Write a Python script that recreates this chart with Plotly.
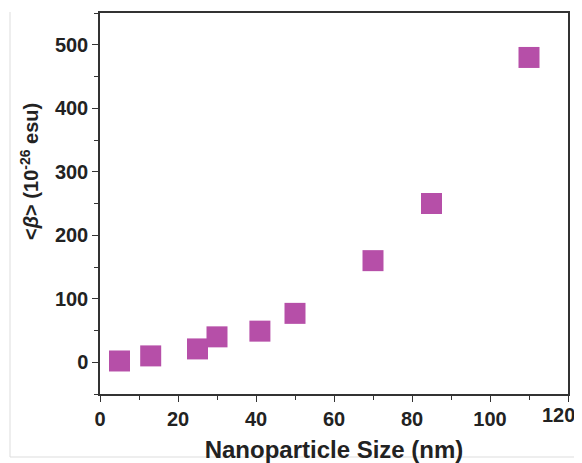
import plotly.graph_objects as go

size_nm = [5, 13, 25, 30, 41, 50, 70, 85, 110]
beta = [2, 10, 21, 40, 49, 77, 160, 250, 480]

x_ticks = [0, 20, 40, 60, 80, 100, 120]
y_ticks = [0, 100, 200, 300, 400, 500]

fig = go.Figure()
fig.add_trace(go.Scatter(
    x=size_nm, y=beta, mode="markers",
    marker=dict(symbol="square", size=21, color="#B64FA8", line=dict(width=0)),
    showlegend=False, cliponaxis=False,
))

font = "Liberation Sans, Arial, sans-serif"
tick_font = dict(family=font, size=20, color="#222", weight="bold")
axis_common = dict(
    showline=True, linecolor="#333", linewidth=1.5, mirror=True,
    ticks="outside", ticklen=6, tickwidth=1.2, tickcolor="#333",
    showgrid=False, zeroline=False, automargin=False,
    ticklabeloverflow="allow",
    tickfont=tick_font,
)
# last x label is drawn as an annotation so that it is not clipped at the page edge
x_ticktext = [str(t) if t != x_ticks[-1] else "" for t in x_ticks]
fig.update_xaxes(
    range=[0, 120], tickvals=x_ticks, ticktext=x_ticktext,
    minor=dict(ticks="outside", ticklen=4, dtick=10, tick0=0, tickcolor="#333", tickwidth=1),
    title=dict(text="Nanoparticle Size (nm)", font=dict(family=font, size=24, color="#222", weight="bold"), standoff=13),
    **axis_common,
)
fig.update_yaxes(
    range=[-50, 550], tickvals=y_ticks,
    minor=dict(ticks="outside", ticklen=4, dtick=50, tick0=0, tickcolor="#333", tickwidth=1),
    **axis_common,
)
# page body has an 8px margin: figure drawn at (8, 8)
W, H = 574, 455
L, R, T, B = 92, 14, 5, 69
pw, ph = W - L - R, H - T - B

fig.add_annotation(
    text=str(x_ticks[-1]), xref="paper", yref="paper",
    x=(W - L - 6) / pw, y=(394 - 415) / ph, xanchor="right", yanchor="middle",
    showarrow=False, font=tick_font, borderpad=0,
)
fig.add_annotation(
    text="&lt;<i>β</i>&gt; (10<sup>-26</sup> esu)", textangle=-90,
    xref="paper", yref="paper", x=(29 - 100) / pw, y=(394 - 172) / ph,
    xanchor="center", yanchor="middle", showarrow=False,
    font=dict(family=font, size=20, color="#222", weight="bold"),
)
fig.add_shape(type="line", xref="paper", yref="paper", x0=(10 - 100) / pw, x1=(10 - 100) / pw,
              y0=(394 - 457) / ph, y1=(394 - 12) / ph, line=dict(color="#ddd", width=1))
fig.add_shape(type="line", xref="paper", yref="paper", x0=(10 - 100) / pw, x1=(582 - 100) / pw,
              y0=(394 - 457) / ph, y1=(394 - 457) / ph, line=dict(color="#ddd", width=1))
fig.update_layout(
    width=W, height=H,
    margin=dict(l=L, r=R, t=T, b=B),
    paper_bgcolor="white", plot_bgcolor="white",
)
fig.write_html("out.html")
